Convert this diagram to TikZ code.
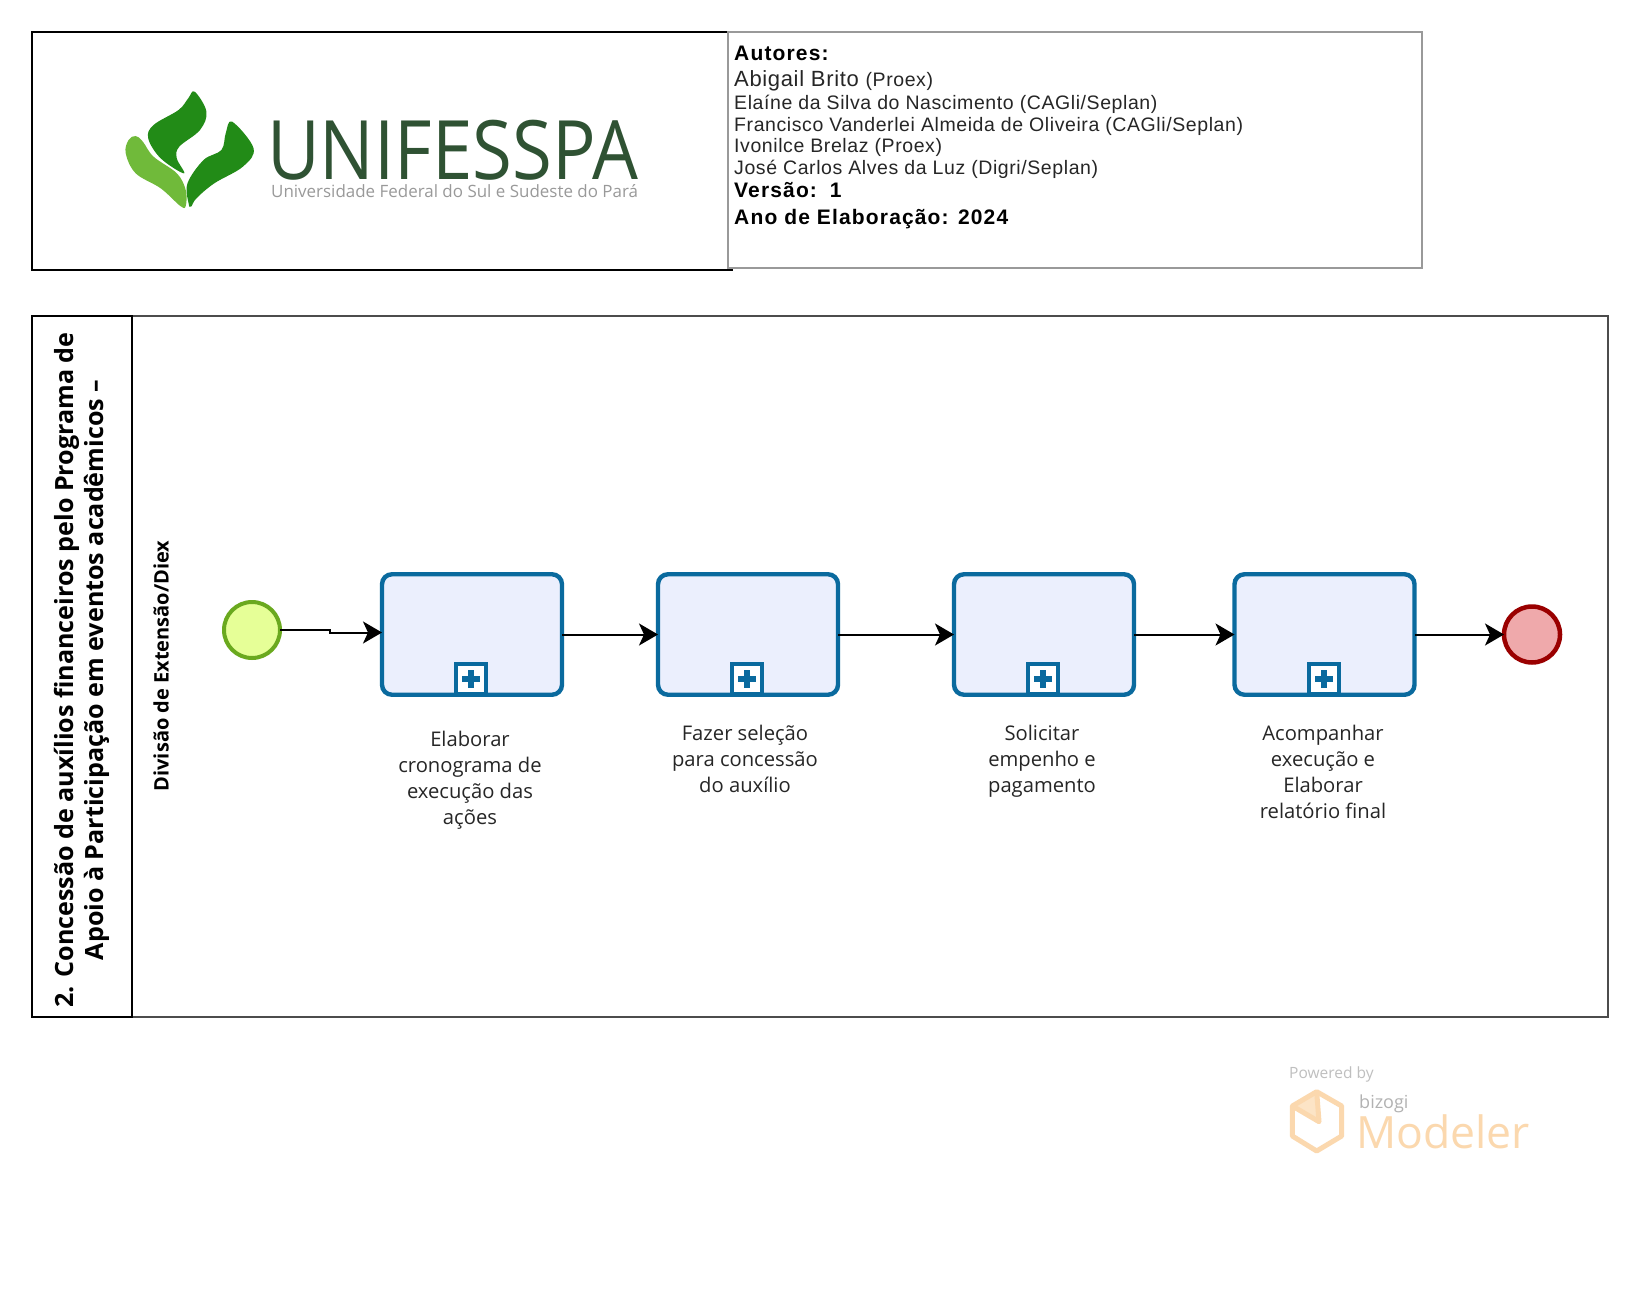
\documentclass[tikz,border=0pt]{standalone}
\usepackage{fontspec}
\setmainfont{Open Sans}
\newfontfamily\authorfont[LetterSpace=3]{Liberation Sans}
\newfontfamily\authorbfont[LetterSpace=5.5]{Liberation Sans Bold}
\usetikzlibrary{arrows.meta,calc}
\definecolor{taskblue}{HTML}{0A6A9E}
\definecolor{taskfill}{HTML}{EBEFFD}
\definecolor{leafdark}{HTML}{228B17}
\definecolor{leaflight}{HTML}{70BA3A}
\definecolor{logotext}{HTML}{2F5233}
\definecolor{wmorange}{HTML}{FBD8AE}
\definecolor{startline}{HTML}{6AA91E}
\definecolor{startfill}{HTML}{E6FF97}
\definecolor{endline}{HTML}{9A0000}
\definecolor{endfill}{HTML}{EFA9AB}
\tikzset{
  x=1pt,y=-1pt,
  flow/.style={line width=2pt,-{Stealth[length=19pt,width=22pt,inset=5pt]}},
  taskbox/.style={draw=taskblue,fill=taskfill,line width=4.4pt,rounded corners=10pt,minimum width=180pt,minimum height=120.5pt,outer sep=0pt,inner sep=0pt},
  marker/.style={draw=taskblue,fill=white,line width=4pt,minimum size=30pt,inner sep=0pt,outer sep=0pt,anchor=south},
  tasklabel/.style={font=\fontsize{20.2}{26}\selectfont,align=center,text=black!85},
  authorline/.style={anchor=base west,inner sep=0pt,font=\authorfont\fontsize{19.5}{20}\selectfont,text=black!85},
  authorbold/.style={authorline,font=\authorbfont\fontsize{21}{22}\selectfont,text=black},
  lane/.style={rotate=90,align=center,inner sep=0pt},
  eventnode/.style={circle,minimum size=56pt,inner sep=0pt,outer sep=0pt,line width=4pt}
}
\begin{document}
\begin{tikzpicture}
\useasboundingbox[fill=white] (0,0) rectangle (1640,1308);
% header boxes
\draw[black,line width=1.6pt] (32,32) rectangle (728,270);
\draw[black,line width=1.6pt] (728,270) -- (733,270);
\draw[black!40,line width=1.8pt] (728,32) rectangle (1422,268);
% logo
\begin{scope}[shift={(100,70)},x=0.35714pt,y=-0.33333pt]
\fill[leafdark] plot[smooth cycle,tension=.6] coordinates {(265,65) (298,125) (280,180) (222,230) (215,265) (235,310) (170,265) (135,205) (150,165) (220,120) (247,85)};
\fill[leafdark] plot[smooth cycle,tension=.6] coordinates {(370,155) (430,235) (400,290) (320,340) (270,385) (255,410) (248,400) (245,340) (290,270) (340,240) (352,190)};
\fill[leaflight] plot[smooth cycle,tension=.6] coordinates {(100,198) (120,215) (150,260) (215,310) (240,360) (240,408) (225,408) (170,355) (100,310) (72,250) (80,210)};
\end{scope}
\node[anchor=base west,inner sep=0pt,text=logotext,font=\fontsize{82}{82}\selectfont] (logoname) at (267,180) {\scalebox{0.884}[1]{UNIFESSPA}};
\node[anchor=base west,inner sep=0pt,text=black!40,font=\fontsize{16.95}{17}\selectfont] (logosub) at (271,197) {Universidade Federal do Sul e Sudeste do Pará};
% authors
\node[authorbold] (a1) at (734,61) {Autores:};
\node[authorline] (a2) at (734,87) {\fontsize{22}{23}\selectfont Abigail Brito \fontsize{19.5}{20}\selectfont (Proex)};
\node[authorline] (a3) at (734,110) {Elaíne da Silva do Nascimento (CAGli/Seplan)};
\node[authorline] (a4) at (734,132) {Francisco Vanderlei Almeida de Oliveira (CAGli/Seplan)};
\node[authorline] (a5) at (734,153) {Ivonilce Brelaz (Proex)};
\node[authorline] (a6) at (734,175) {José Carlos Alves da Luz (Digri/Seplan)};
\node[authorbold] (a7) at (734,197) {Versão:\, 1};
\node[authorbold] (a8) at (734,224) {Ano de Elaboração: 2024};
% pool
\draw[black!70,line width=1.6pt] (132,316) rectangle (1608,1017);
\draw[black,line width=1.8pt] (32,316) rectangle (132,1017);
\node[lane,font=\bfseries\fontsize{25.1}{30}\selectfont] (pooltitle) at (82,670) {2. Concessão de auxílios financeiros pelo Programa de\\Apoio à Participação em eventos acadêmicos –};
\node[lane,font=\bfseries\fontsize{20}{22}\selectfont] (lanetitle) at (161,666) {Divisão de Extensão/Diex};
% events
\node[eventnode,draw=startline,fill=startfill] (start) at (252,630) {};
\node[eventnode,draw=endline,fill=endfill,line width=4.5pt] (end) at (1532,634.5) {};
% tasks
\node[taskbox] (t1) at (472,634.5) {};
\node[taskbox] (t2) at (748,634.5) {};
\node[taskbox] (t3) at (1044,634.5) {};
\node[taskbox] (t4) at (1324.5,634.5) {};
\foreach \i in {1,2,3,4}{
  \node[marker] (m\i) at ([xshift=-1pt,yshift=1pt]t\i.south) {};
  \fill[taskblue] ([xshift=-9pt,yshift=-3pt]m\i.center) rectangle ([xshift=9pt,yshift=3pt]m\i.center);
  \fill[taskblue] ([xshift=-3pt,yshift=-9pt]m\i.center) rectangle ([xshift=3pt,yshift=9pt]m\i.center);
}
\node[tasklabel] (l1) at (470,780) {Elaborar\\cronograma de\\execução das\\ações};
\node[tasklabel] (l2) at (745,759) {Fazer seleção\\para concessão\\do auxílio};
\node[tasklabel] (l3) at (1042,761) {Solicitar\\empenho e\\pagamento};
\node[tasklabel] (l4) at (1323,772) {Acompanhar\\execução e\\Elaborar\\relatório final};
% connectors
\coordinate (jog) at ($(start.east)+(50,0)$);
\draw[flow] (start.east) -- (jog) |- ([yshift=2pt]t1.west);
\draw[flow] (t1.east) -- (t2.west);
\draw[flow] (t2.east) -- (t3.west);
\draw[flow] (t3.east) -- (t4.west);
\draw[flow] (t4.east) -- (end.west);
% watermark
\node[anchor=base west,inner sep=0pt,text=black!25,font=\fontsize{15.5}{17}\selectfont] (wm1) at (1289,1078) {Powered by};
\begin{scope}[shift={(1270,1051)},x=0.33333pt,y=-0.33333pt]
\fill[wmorange!70] (140,122) -- (80,165) -- (147,212) -- cycle;
\draw[wmorange,line width=5pt,line join=round] (140,122) -- (215,165) -- (215,255) -- (140,300) -- (67,255) -- (67,165) -- cycle;
\draw[wmorange,line width=5pt,line join=round] (67,165) -- (147,212) -- (140,122);
\end{scope}
\node[anchor=base west,inner sep=0pt,text=black!30,font=\fontsize{18}{18}\selectfont] (wm2) at (1359,1108) {bizogi};
\node[anchor=base west,inner sep=0pt,text=wmorange,font=\fontsize{44.5}{44}\selectfont] (wm3) at (1356,1148) {Modeler};
\end{tikzpicture}
\end{document}
